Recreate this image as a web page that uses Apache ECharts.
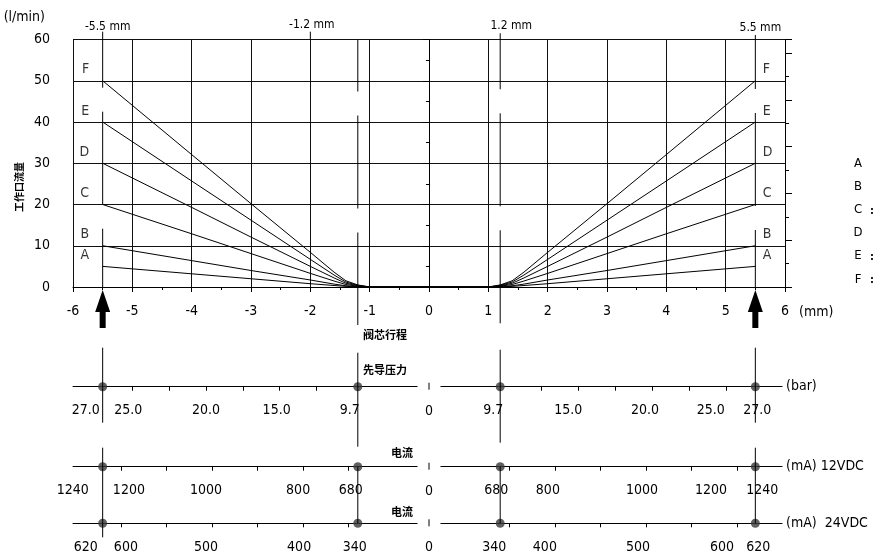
<!DOCTYPE html>
<html><head><meta charset="utf-8">
<script src="https://cdn.jsdelivr.net/npm/echarts@6/dist/echarts.min.js"></script>
<style>html,body{margin:0;padding:0;background:#fff}#c{width:874px;height:557px}</style>
</head><body><div id="c"></div>
<script>
// ================= DATA =================
const seriesNames = ['A', 'B', 'C', 'D', 'E', 'F'];
const strokeMM = [-5.5, -4, -3, -2, -1.6, -1.4, -1.2, -1.0, 0, 1.0, 1.2, 1.4, 1.6, 2, 3, 4, 5.5];
const flowA = [5, 3.2, 2.0, 0.8, 0.36, 0.15, 0.05, 0, 0, 0, 0.05, 0.15, 0.36, 0.8, 2.0, 3.2, 5];
const flowB = [10, 6.4, 4.0, 1.7, 0.7, 0.3, 0.1, 0, 0, 0, 0.1, 0.3, 0.7, 1.7, 4.0, 6.4, 10];
const flowC = [20, 12.9, 8.1, 3.3, 1.45, 0.6, 0.2, 0, 0, 0, 0.2, 0.6, 1.45, 3.3, 8.1, 12.9, 20];
const flowD = [30, 19.3, 12.1, 5.0, 2.2, 0.9, 0.3, 0, 0, 0, 0.3, 0.9, 2.2, 5.0, 12.1, 19.3, 30];
const flowE = [40, 25.7, 16.2, 6.7, 2.9, 1.2, 0.4, 0, 0, 0, 0.4, 1.2, 2.9, 6.7, 16.2, 25.7, 40];
const flowF = [50, 32.1, 20.2, 8.4, 3.6, 1.5, 0.5, 0, 0, 0, 0.5, 1.5, 3.6, 8.4, 20.2, 32.1, 50];
const flows = [flowA, flowB, flowC, flowD, flowE, flowF];

// operating points: stroke (mm, mirrored) <-> pilot pressure <-> current
const guideMM = [-5.5, -1.2, 1.2, 5.5];
const pointMM = [1.2, 5.5];
const pointBar = [9.7, 27.0];
const point12 = [680, 1240];
const point24 = [340, 620];

const barTicks = [12.5, 15, 17.5, 20, 22.5, 25];
const barLabels = [9.7, 15.0, 20.0, 25.0, 27.0];
const mA12Ticks = [700, 800, 900, 1000, 1100, 1200];
const mA12LabelsL = [680, 800, 1000, 1200, 1240];
const mA12LabelsR = [680, 800, 1000, 1200, 1240];
const mA24Ticks = [350, 400, 450, 500, 550, 600];
const mA24Labels = [340, 400, 500, 600, 620];
const legendLetters = ['A', 'B', 'C', 'D', 'E', 'F'];

// ================= LAYOUT =================
const FONT = "'DejaVu Sans Condensed','Liberation Sans Narrow','DejaVu Sans',sans-serif";
const CJK = "'Noto Sans CJK SC',sans-serif";
const FS = 14;
const PX_L = 73, PX_R = 785, AXIS_Y = 287, TOP_Y = 39.5;
const mmToPx = mm => PX_L + (mm + 6) * (PX_R - PX_L) / 12;
// label nudges (px) as drawn in the original
const nudges = {
  barL: {'27.0': -17, '25.0': -4, '15.0': -3, '9.7': -8},
  barR: {'9.7': -7, '15.0': -10, '20.0': -7, '25.0': -15, '27.0': 2},
  v12L: {'1240': -30, '1200': 8, '1000': -6, '800': -5, '680': -7},
  v12R: {'680': -4, '800': -7, '1000': -4, '1200': -26, '1240': 7},
  v24L: {'620': -17, '600': 5, '500': -6, '400': -4, '340': -3},
  v24R: {'340': -6, '400': -10, '500': -8, '600': -15, '620': 3}
};
const rows = [
  {key: 'bar', y: 386.7, anchors: pointBar, ticks: barTicks, labelsL: barLabels, labelsR: barLabels, dec: 1, name: '(bar)'},
  {key: 'v12', y: 466.7, anchors: point12, ticks: mA12Ticks, labelsL: mA12LabelsL, labelsR: mA12LabelsR, dec: 0, name: '(mA) 12VDC'},
  {key: 'v24', y: 523.3, anchors: point24, ticks: mA24Ticks, labelsL: mA24Labels, labelsR: mA24Labels, dec: 0, name: '(mA)  24VDC'}
];
const scaleVal = (anch, absmm) => anch[0] + (absmm - pointMM[0]) * (anch[1] - anch[0]) / (pointMM[1] - pointMM[0]);

function nudgeRich(map) {
  const rich = {};
  Object.values(map).forEach(n => {
    const nm = n < 0 ? 'm' + (-n) : 'p' + n;
    rich[nm] = {fontSize: FS, fontFamily: FONT, color: '#000', padding: n < 0 ? [0, -2 * n, 0, 0] : [0, 0, 0, 2 * n]};
  });
  rich.z = {fontSize: FS, fontFamily: FONT, color: '#000'};
  return rich;
}
function nudgeFmt(map, dec) {
  return v => {
    const s = dec ? Number(v).toFixed(dec) : String(Math.round(v));
    const n = map[s];
    if (!n) return '{z|' + s + '}';
    return '{' + (n < 0 ? 'm' + (-n) : 'p' + n) + '|' + s + '}';
  };
}

// ================= OPTION =================
const black = '#000';
const grid = [{left: PX_L, right: 874 - PX_R, top: TOP_Y, height: AXIS_Y - TOP_Y}];
const xAxis = [{
  type: 'value', gridIndex: 0, min: -6, max: 6, interval: 1,
  axisLine: {lineStyle: {color: black, width: 1}},
  axisTick: {length: 5, lineStyle: {color: black}},
  minorTick: {show: true, splitNumber: 2, length: 3, lineStyle: {color: black}},
  splitLine: {show: true, lineStyle: {color: '#111', width: 1}},
  axisLabel: {fontSize: FS, fontFamily: FONT, color: black, margin: 17}
}];
const yAxis = [{
  type: 'value', gridIndex: 0, min: 0, max: 60, interval: 10,
  axisLine: {show: true, lineStyle: {color: black}},
  axisTick: {show: true, length: 6, lineStyle: {color: black}},
  minorTick: {show: true, splitNumber: 2, length: 3, lineStyle: {color: black}},
  splitLine: {show: true, lineStyle: {color: '#111', width: 1}},
  axisLabel: {fontSize: FS, fontFamily: FONT, color: black, margin: 23}
}, {
  type: 'value', gridIndex: 0, position: 'right', min: 0, max: 10.58, interval: 2,
  axisLine: {show: true, lineStyle: {color: black}},
  axisTick: {show: true, length: 7, lineStyle: {color: black}},
  minorTick: {show: true, splitNumber: 2, length: 4, lineStyle: {color: black}},
  axisLabel: {show: false}, splitLine: {show: false}
}];
const series = [];
flows.forEach((f, i) => {
  series.push({
    type: 'line', name: seriesNames[i], xAxisIndex: 0, yAxisIndex: 0,
    data: strokeMM.map((x, j) => [x, f[j]]),
    showSymbol: false, smooth: false,
    lineStyle: {color: black, width: 1}, z: 3, silent: true
  });
});
// curve letters at both ends
series.push({
  type: 'scatter', xAxisIndex: 0, yAxisIndex: 0, symbolSize: 1, silent: true, clip: false,
  itemStyle: {color: 'rgba(0,0,0,0)'}, z: 5,
  data: flows.flatMap((f, i) => [
    {value: [strokeMM[0], f[0], seriesNames[i]], label: {position: 'left', distance: 13}},
    {value: [strokeMM[strokeMM.length - 1], f[f.length - 1], seriesNames[i]], label: {position: 'right', distance: 7}}
  ]),
  label: {show: true, formatter: p => p.value[2], fontSize: FS, fontFamily: FONT, color: black, offset: [0, -11]}
});

// bottom scale rows: each has a left (mirrored) and right half axis
rows.forEach((r, k) => {
  const gl = grid.length;
  grid.push({left: PX_L, right: 874 - mmToPx(-0.2), top: r.y - 10, height: 10});
  grid.push({left: mmToPx(0.2), right: 874 - mmToPx(5.95), top: r.y - 10, height: 10});
  const common = {
    type: 'value',
    axisLine: {lineStyle: {color: black, width: 1}},
    axisTick: {customValues: r.ticks, length: 4, lineStyle: {color: black}},
    splitLine: {show: false}
  };
  const nL = nudges[r.key + 'L'], nR = nudges[r.key + 'R'];
  r.xl = xAxis.length;
  xAxis.push(Object.assign({}, common, {
    gridIndex: gl, inverse: true, min: scaleVal(r.anchors, 0.2), max: scaleVal(r.anchors, 6),
    axisLabel: {customValues: r.labelsL, formatter: nudgeFmt(nL, r.dec), rich: nudgeRich(nL), margin: 17, fontSize: FS, fontFamily: FONT, color: black}
  }));
  r.xr = xAxis.length;
  xAxis.push(Object.assign({}, common, {
    gridIndex: gl + 1, min: scaleVal(r.anchors, 0.2), max: scaleVal(r.anchors, 5.95),
    axisLabel: {customValues: r.labelsR, formatter: nudgeFmt(nR, r.dec), rich: nudgeRich(nR), margin: 17, fontSize: FS, fontFamily: FONT, color: black}
  }));
  r.yl = yAxis.length;
  yAxis.push({type: 'value', gridIndex: gl, min: 0, max: 1, show: false});
  r.yr = yAxis.length;
  yAxis.push({type: 'value', gridIndex: gl + 1, min: 0, max: 1, show: false});
  [[r.xl, r.yl], [r.xr, r.yr]].forEach(([xi, yi]) => {
    series.push({
      type: 'scatter', xAxisIndex: xi, yAxisIndex: yi, clip: false, silent: true,
      symbol: 'circle', symbolSize: 9, itemStyle: {color: '#383838'}, z: 2,
      data: r.anchors.map(v => [v, 0])
    });
  });
});

const chart = echarts.init(document.getElementById('c'));
chart.setOption({animation: false, backgroundColor: '#fff', grid, xAxis, yAxis, series});

// ================= DECORATION (positions from the chart's scales) =================
const P = (mm, v) => chart.convertToPixel({xAxisIndex: 0, yAxisIndex: 0}, [mm, v]);
const g = [];
const line = (x1, y1, x2, y2, extra) => g.push(Object.assign({type: 'line', silent: true, z: 10,
  shape: {x1, y1, x2, y2}, style: Object.assign({stroke: black, lineWidth: 1}, extra || {})}));
const text = (t, x, y, opts) => g.push({type: 'text', silent: true, z: 10, x, y, rotation: (opts && opts.rot) || 0,
  style: {text: t, fill: black, font: (opts && opts.font) || (FS + 'px ' + FONT), textAlign: (opts && opts.align) || 'center', textVerticalAlign: 'middle'}});

// axis names
const pTop = P(-6, 60), pEnd = P(6, 0);
text('(l/min)', pTop[0] - 28, pTop[1] - 22, {align: 'right'});
text('(mm)', pEnd[0] + 14, pEnd[1] + 25, {align: 'left'});
rows.forEach(r => {
  const pe = chart.convertToPixel({xAxisIndex: r.xr, yAxisIndex: r.yr}, [scaleVal(r.anchors, 5.95), 0]);
  text(r.name, pe[0] + 4, pe[1], {align: 'left'});
});

// center lines at the operating strokes
const guideLayout = [
  {top: 31.7, bottom: AXIS_Y, off: 37, lx: 5, ly: 26.5},
  {top: TOP_Y, bottom: 325, off: 41, lx: -46, ly: 25},
  {top: 33.3, bottom: 325, off: 37, lx: 11, ly: 26},
  {top: 35, bottom: AXIS_Y, off: 39, lx: 5, ly: 28}
];
guideMM.forEach((mm, i) => {
  const x = P(mm, 0)[0], L = guideLayout[i];
  line(x, L.top, x, L.bottom, {lineDash: [93, 24], lineDashOffset: L.off});
  text(mm + ' mm', x + L.lx, L.ly, {font: '12px ' + FONT});
});
// -2 grid line running up to the label
const xm2 = P(-2, 60);
line(xm2[0], 31.7, xm2[0], xm2[1]);

// arrows under the full-stroke positions
[guideMM[0], guideMM[3]].forEach(mm => {
  const [x, y] = P(mm, 0);
  g.push({type: 'polygon', silent: true, z: 10, shape: {points: [
    [x, y + 3], [x + 7.5, y + 25], [x + 3, y + 25], [x + 3, y + 41], [x - 3, y + 41], [x - 3, y + 25], [x - 7.5, y + 25]]},
    style: {fill: black}});
});

// connectors through the operating points on the lower scales
const rowPx = (r, side, idx) => chart.convertToPixel({xAxisIndex: side ? r.xr : r.xl, yAxisIndex: side ? r.yr : r.yl}, [r.anchors[idx], 0]);
const rb = rows[0], r12 = rows[1], r24 = rows[2];
let p;
p = rowPx(rb, 0, 1); line(p[0], p[1] - 39, p[0], p[1] + 36);
p = rowPx(r12, 0, 1); line(p[0], p[1] - 19, p[0], rowPx(r24, 0, 1)[1] + 14);
p = rowPx(rb, 0, 0); line(p[0], p[1] - 34, p[0], p[1] + 60);
p = rowPx(r12, 0, 0); line(p[0], p[1], p[0], rowPx(r24, 0, 0)[1]);
p = rowPx(rb, 1, 0); line(p[0], p[1] - 37, p[0], p[1] + 56);
p = rowPx(r12, 1, 0); line(p[0], p[1], p[0], rowPx(r24, 1, 0)[1]);
p = rowPx(rb, 1, 1); line(p[0], p[1] - 39, p[0], p[1] + 36);
p = rowPx(r12, 1, 1); line(p[0], p[1] - 19, p[0], rowPx(r24, 1, 1)[1]);

// "0" at the centre of each lower scale
const x0 = P(0, 0)[0];
rows.forEach(r => {
  line(x0, r.y - 4, x0, r.y + 3);
  text('0', x0, r.y + 24.5);
});

// Chinese captions
const cjkB = 'bold 11px ' + CJK;
text('阀芯行程', 385, 335, {font: cjkB});
text('先导压力', 385, 370, {font: cjkB});
text('电流', 402, 453, {font: cjkB});
text('电流', 402, 512, {font: cjkB});
text('工作口流量', 19, 187, {font: 'bold 10px ' + CJK, rot: Math.PI / 2});

// letter list at the right edge
legendLetters.forEach((L, i) => {
  const y = 163.3 + i * 23.2;
  text(L, 858, y, {font: '13px ' + FONT});
  if (L === 'C' || L === 'E' || L === 'F') text(':', 872, y + 1, {font: 'bold 11px ' + FONT});
});

chart.setOption({graphic: g});
</script>
</body></html>
